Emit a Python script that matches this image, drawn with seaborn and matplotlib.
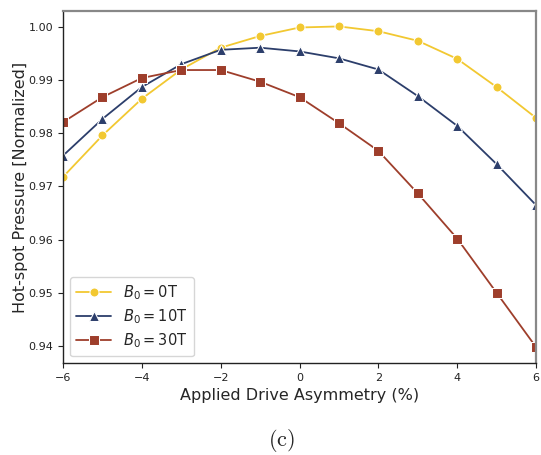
import matplotlib
matplotlib.use("Agg")
import matplotlib.pyplot as plt
import seaborn as sns
import pandas as pd

asym = [-6, -5, -4, -3, -2, -1, 0, 1, 2, 3, 4, 5, 6]
p_0T = [0.9718, 0.9796, 0.9865, 0.9920, 0.9961, 0.9983, 0.9999, 1.0001, 0.9992, 0.9974, 0.9940, 0.9887, 0.9829]
p_10T = [0.9758, 0.9827, 0.9887, 0.9930, 0.9957, 0.9961, 0.9954, 0.9941, 0.9920, 0.9870, 0.9814, 0.9742, 0.9665]
p_30T = [0.9821, 0.9868, 0.9904, 0.9919, 0.9919, 0.9897, 0.9868, 0.9819, 0.9767, 0.9687, 0.9602, 0.9500, 0.9398]
labels = [r"$B_0 = 0$T", r"$B_0 = 10$T", r"$B_0 = 30$T"]
colors = ["#f2c831", "#2c3e6b", "#9e3e2b"]

rows = []
for lab, vals in zip(labels, [p_0T, p_10T, p_30T]):
    for a, v in zip(asym, vals):
        rows.append({"asym": a, "p": v, "field": lab})
df = pd.DataFrame(rows)

sns.set_style("white")
fig = plt.figure(figsize=(5.41, 4.55), dpi=100)
ax = fig.add_axes([0.1165, 0.2022, 0.8743, 0.7736])
sns.lineplot(data=df, x="asym", y="p", hue="field", style="field",
             hue_order=labels, style_order=labels,
             palette=colors, markers=["o", "^", "s"], dashes=False,
             markersize=6.5, linewidth=1.3, ax=ax)

ax.set_xlim(-6, 6)
ax.set_ylim(0.9368, 1.0030)
ax.set_xticks([-6, -4, -2, 0, 2, 4, 6])
ax.set_xticklabels(["\u22126", "\u22124", "\u22122", "0", "2", "4", "6"])
ax.set_yticks([0.94, 0.95, 0.96, 0.97, 0.98, 0.99, 1.00])
ax.set_yticklabels(["0.94", "0.95", "0.96", "0.97", "0.98", "0.99", "1.00"])
ax.tick_params(axis="both", labelsize=8, length=3.5, width=0.8, bottom=True, left=True, colors="#222222")
ax.set_xlabel("Applied Drive Asymmetry (%)", fontsize=11.5)
ax.set_ylabel("Hot-spot Pressure [Normalized]", fontsize=11.5, labelpad=0.5)
for s in ["left", "bottom"]:
    ax.spines[s].set_color("#222222")
    ax.spines[s].set_linewidth(1.0)
for s in ["top", "right"]:
    ax.spines[s].set_color("#888888")
    ax.spines[s].set_linewidth(1.6)

leg = ax.legend(loc="lower left", fontsize=10.5, frameon=True, handlelength=2.4,
                borderpad=0.45, labelspacing=0.35, borderaxespad=0.45)
leg.get_frame().set_edgecolor("#cccccc")

fig.text(0.52, 0.032, r"$\mathrm{(c)}$", ha="center", va="center", fontsize=16,
         math_fontfamily="cm")

fig.savefig("out.png", dpi=100)
